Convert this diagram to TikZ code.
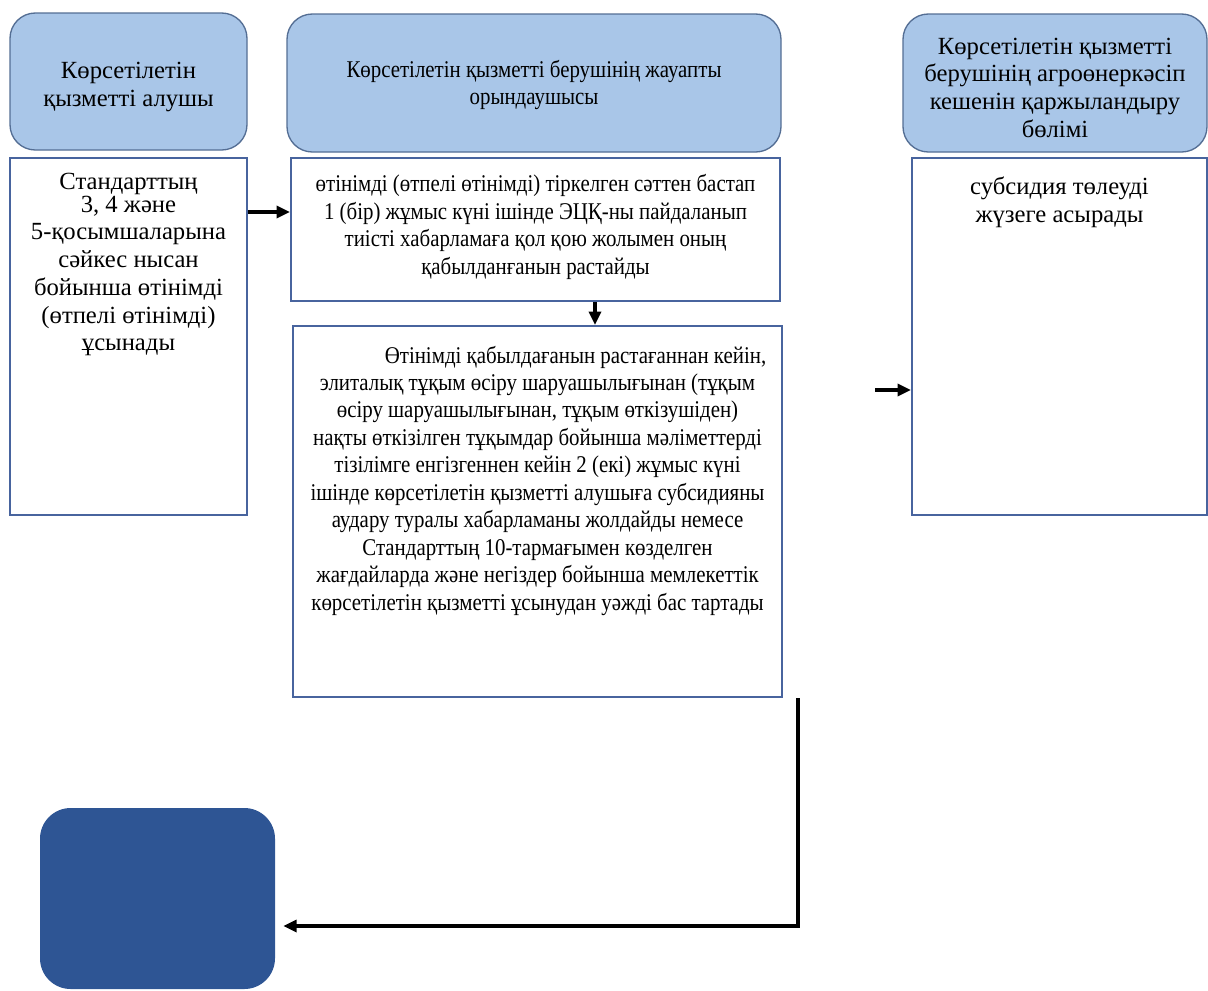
\documentclass[tikz,border=0pt]{standalone}
\usepackage{fontspec}
\setmainfont{Liberation Serif}
\newfontfamily\condfont[FakeStretch=0.87]{Liberation Serif}
\usetikzlibrary{arrows.meta,fit}
\definecolor{hdrfill}{RGB}{169,198,232}
\definecolor{hdrline}{RGB}{84,110,148}
\definecolor{boxline}{RGB}{72,100,158}
\definecolor{endfill}{RGB}{46,85,148}
\begin{document}
\begin{tikzpicture}[x=0.75pt,y=-0.75pt,
  lane/.style={draw=hdrline, fill=hdrfill, line width=1pt, rounded corners=19pt, inner sep=0pt},
  stepbox/.style={draw=boxline, fill=white, line width=1.6pt, inner sep=0pt},
  endbox/.style={draw=none, fill=endfill, rounded corners=23pt, inner sep=0pt},
  sidetxt/.style={align=center, font=\fontsize{18.5pt}{20.8pt}\selectfont, inner sep=0pt},
  midtxt/.style={align=center, font=\condfont\fontsize{18pt}{20.6pt}\selectfont, inner sep=0pt},
  arr/.style={line width=2.4pt, -{Triangle[length=10pt,width=9pt]}}]
\useasboundingbox (0,0) rectangle (1208,990);
% headers
\node[lane, fit={(10,13) (247,150)}] (h1) {};
\node[lane, fit={(287,14) (781,152)}] (h2) {};
\node[lane, fit={(903,14) (1207,152)}] (h3) {};
\node[sidetxt] (th1) at ([yshift=-4pt]h1.center) {Көрсетілетін\\қызметті алушы};
\node[midtxt] (th2) at ([yshift=-1.5pt]h2.center) {Көрсетілетін қызметті берушінің жауапты\\орындаушысы};
\node[sidetxt] (th3) at ([yshift=-3.5pt]h3.center) {Көрсетілетін қызметті\\берушінің агроөнеркәсіп\\кешенін қаржыландыру\\бөлімі};
% boxes
\node[stepbox, fit={(10,158) (247,515)}] (b1) {};
\node[stepbox, fit={(291,158) (780,301)}] (b2) {};
\node[stepbox, fit={(293,326) (782,697)}] (b3) {};
\node[stepbox, fit={(912,158) (1207,515)}] (b4) {};
\node[endbox, fit={(40,808) (275,989)}] (endblk) {};
\node[sidetxt, anchor=north] (tb1) at ([yshift=-12pt]b1.north) {Стандарттың\\[-3.8pt]3, 4 және\\5-қосымшаларына\\сәйкес нысан\\бойынша өтінімді\\(өтпелі өтінімді)\\ұсынады};
\node[midtxt, anchor=north] (tb2) at ([yshift=-13pt]b2.north) {өтінімді (өтпелі өтінімді) тіркелген сәттен бастап\\1 (бір) жұмыс күні ішінде ЭЦҚ-ны пайдаланып\\тиісті хабарламаға қол қою жолымен оның\\қабылданғанын растайды};
\node[midtxt, anchor=north] (tb3) at ([yshift=-15.5pt]b3.north) {\hspace*{57pt}Өтінімді қабылдағанын растағаннан кейін,\\
элиталық тұқым өсіру шаруашылығынан (тұқым\\
өсіру шаруашылығынан, тұқым өткізушіден)\\
нақты өткізілген тұқымдар бойынша мәліметтерді\\
тізілімге енгізгеннен кейін 2 (екі) жұмыс күні\\
ішінде көрсетілетін қызметті алушыға субсидияны\\
аудару туралы хабарламаны жолдайды немесе\\
Стандарттың 10-тармағымен көзделген\\
жағдайларда және негіздер бойынша мемлекеттік\\
көрсетілетін қызметті ұсынудан уәжді бас тартады};
\node[sidetxt, anchor=north] (tb4) at ([yshift=-15pt]b4.north) {субсидия төлеуді\\жүзеге асырады};
% connectors
\coordinate (c1) at (0,212);
\coordinate (c2) at (595,0);
\coordinate (c3) at (875,390);
\coordinate (c4) at (798,926);
\draw[arr] (b1.east |- c1) -- (b2.west |- c1);
\draw[arr] (b2.south -| c2) -- (b3.north -| c2);
\draw[arr] (c3) -- (c3 -| b4.west);
\draw[arr, shorten >=6pt] (b3.south -| c4) |- (endblk.east |- c4);
\end{tikzpicture}
\end{document}
